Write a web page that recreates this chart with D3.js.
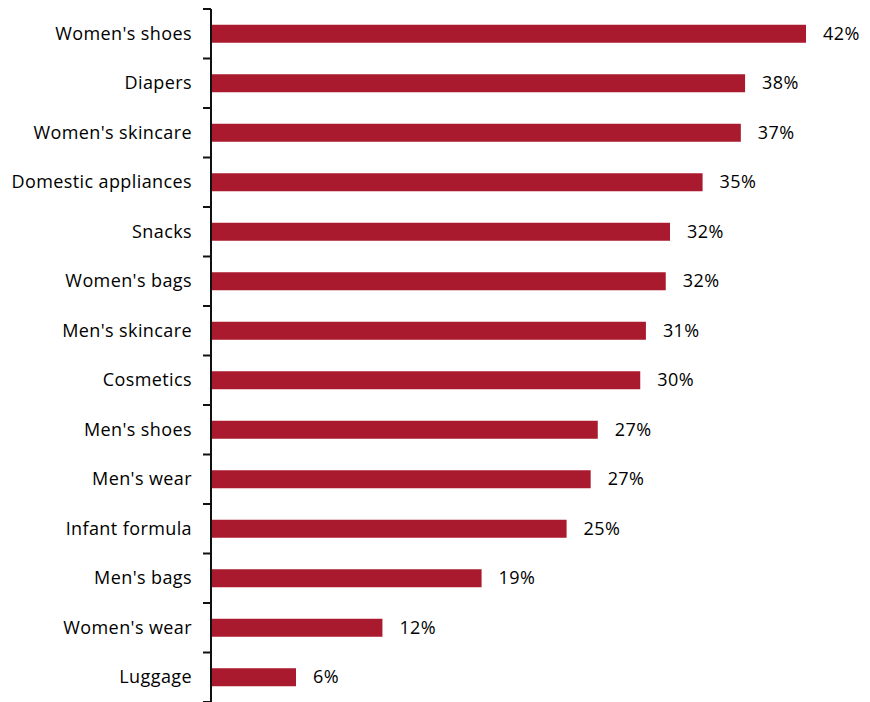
<!DOCTYPE html>
<html>
<head>
<meta charset="utf-8">
<script src="https://cdn.jsdelivr.net/npm/d3@7"></script>
<style>
body { margin: 0; background: #fff; }
text { font-family: "Open Sans", sans-serif; fill: #000; letter-spacing: 0.4px; }
</style>
</head>
<body>
<svg width="870" height="702"></svg>
<script>
let categories = ["Women's shoes","Diapers","Women's skincare","Domestic appliances","Snacks","Women's bags","Men's skincare","Cosmetics","Men's shoes","Men's wear","Infant formula","Men's bags","Women's wear","Luggage"]
let values = [42.0, 37.7, 37.4, 34.7, 32.4, 32.1, 30.7, 30.3, 27.3, 26.8, 25.1, 19.1, 12.1, 6.0]
let labels = ["42%","38%","37%","35%","32%","32%","31%","30%","27%","27%","25%","19%","12%","6%"]

let svg = d3.select("svg")
let axis_x = 211, axis_top = 9, axis_bottom = 702
let pad = 1 - 18 / 49.5

let x = d3.scaleLinear().domain([0, 42]).range([axis_x, 806])
let y = d3.scaleBand().domain(categories).range([axis_top, axis_bottom]).paddingInner(pad).paddingOuter(pad / 2)

let data = categories.map((c, i) => ({name: c, value: values[i], label: labels[i]}))

svg.selectAll("rect.bar")
  .data(data)
  .enter()
  .append("rect")
  .attr("class", "bar")
  .attr("x", x(0))
  .attr("y", d => y(d.name))
  .attr("width", d => x(d.value) - x(0))
  .attr("height", y.bandwidth())
  .attr("fill", "#AA1A2E")

// axis line and boundary ticks
let step = y.step()
let tickYs = categories.map(c => y(c) - step * pad / 2).concat([axis_bottom])
svg.append("line")
  .attr("x1", axis_x).attr("x2", axis_x)
  .attr("y1", axis_top).attr("y2", axis_bottom)
  .attr("stroke", "#111").attr("stroke-width", 2)
svg.selectAll("line.tick")
  .data(tickYs)
  .enter()
  .append("line")
  .attr("class", "tick")
  .attr("x1", axis_x - 8).attr("x2", axis_x)
  .attr("y1", d => d).attr("y2", d => d)
  .attr("stroke", "#111").attr("stroke-width", 2)

svg.selectAll("text.cat")
  .data(data)
  .enter()
  .append("text")
  .attr("class", "cat")
  .attr("x", axis_x - 19)
  .attr("y", d => y(d.name) + y.bandwidth() / 2)
  .attr("dy", "0.33em")
  .attr("text-anchor", "end")
  .style("font-size", "18px")
  .text(d => d.name)

svg.selectAll("text.val")
  .data(data)
  .enter()
  .append("text")
  .attr("class", "val")
  .attr("x", d => x(d.value) + 17)
  .attr("y", d => y(d.name) + y.bandwidth() / 2)
  .attr("dy", "0.33em")
  .style("font-size", "18px")
  .text(d => d.label)
</script>
</body>
</html>
